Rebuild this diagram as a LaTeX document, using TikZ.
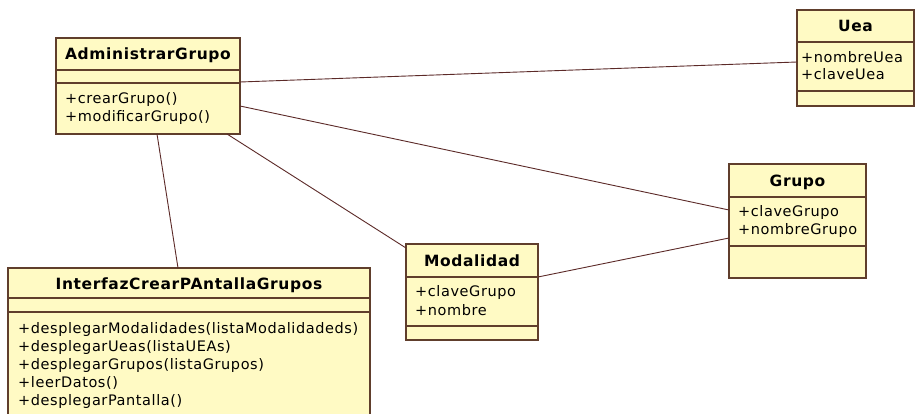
\documentclass[tikz,border=0pt]{standalone}
\usepackage{fontspec}
\setmainfont{DejaVu Sans}[LetterSpace=4]
\usetikzlibrary{calc}
\definecolor{clsfill}{RGB}{255,250,196}
\definecolor{clsline}{RGB}{96,62,44}
\definecolor{assoc}{RGB}{92,42,40}
\tikzset{
  cls/.style={draw=clsline, fill=clsfill, line width=1.2pt, inner sep=0pt, outer sep=0pt, anchor=north west},
  divider/.style={draw=clsline, line width=1.2pt},
  ttl/.style={font=\fontsize{15.5}{18}\selectfont\bfseries, anchor=base, inner sep=0pt},
  mbr/.style={font=\fontsize{14.5}{18}\selectfont, anchor=base west, inner sep=0pt},
  assocline/.style={draw=assoc, line width=0.9pt}
}
\begin{document}
\begin{tikzpicture}[x=1pt,y=-1pt]
\useasboundingbox[fill=white] (0,0) rectangle (916,414);
\clip (0,0) rectangle (916,414);

% AdministrarGrupo
\node[cls, minimum width=184pt, minimum height=96pt] (adm) at (56,38) {};
\draw[divider] ($(adm.north west)+(0,32)$) -- ($(adm.north east)+(0,32)$);
\draw[divider] ($(adm.north west)+(0,45)$) -- ($(adm.north east)+(0,45)$);
\node[ttl] (admT) at (148,59.5) {AdministrarGrupo};
\node[mbr] (admO1) at (65,104) {+crearGrupo()};
\node[mbr] (admO2) at (65,122) {+modificarGrupo()};

% Uea
\node[cls, minimum width=117pt, minimum height=96pt] (uea) at (797,10) {};
\draw[divider] ($(uea.north west)+(0,32)$) -- ($(uea.north east)+(0,32)$);
\draw[divider] ($(uea.north west)+(0,81)$) -- ($(uea.north east)+(0,81)$);
\node[ttl] (ueaT) at (855.5,31.5) {Uea};
\node[mbr] (ueaA1) at (801,63) {+nombreUea};
\node[mbr] (ueaA2) at (801,80) {+claveUea};

% Grupo
\node[cls, minimum width=137pt, minimum height=114pt] (grupo) at (729,164) {};
\draw[divider] ($(grupo.north west)+(0,33)$) -- ($(grupo.north east)+(0,33)$);
\draw[divider] ($(grupo.north west)+(0,82)$) -- ($(grupo.north east)+(0,82)$);
\node[ttl] (grupoT) at (797.5,186.5) {Grupo};
\node[mbr] (grupoA1) at (738,217) {+claveGrupo};
\node[mbr] (grupoA2) at (738,235) {+nombreGrupo};

% Modalidad
\node[cls, minimum width=132pt, minimum height=96pt] (mod) at (406,244) {};
\draw[divider] ($(mod.north west)+(0,33)$) -- ($(mod.north east)+(0,33)$);
\draw[divider] ($(mod.north west)+(0,82)$) -- ($(mod.north east)+(0,82)$);
\node[ttl] (modT) at (472,266.5) {Modalidad};
\node[mbr] (modA1) at (415,297) {+claveGrupo};
\node[mbr] (modA2) at (415,315) {+nombre};

% InterfazCrearPAntallaGrupos
\node[cls, minimum width=362pt, minimum height=156pt] (inter) at (8,268) {};
\draw[divider] ($(inter.north west)+(0,30)$) -- ($(inter.north east)+(0,30)$);
\draw[divider] ($(inter.north west)+(0,44)$) -- ($(inter.north east)+(0,44)$);
\node[ttl] (interT) at (189,289.5) {InterfazCrearPAntallaGrupos};
\node[mbr] (interO1) at (18,333) {+desplegarModalidades(listaModalidadeds)};
\node[mbr] (interO2) at (18,351) {+desplegarUeas(listaUEAs)};
\node[mbr] (interO3) at (18,369) {+desplegarGrupos(listaGrupos)};
\node[mbr] (interO4) at (18,387) {+leerDatos()};
\node[mbr] (interO5) at (18,405) {+desplegarPantalla()};

% associations
\draw[assocline] ($(adm.north east)+(0,44)$) -- ($(uea.north west)+(0,52)$);
\draw[assocline] ($(adm.north east)+(0,68)$) -- ($(grupo.north west)+(0,46)$);
\draw[assocline] ($(adm.south west)+(171,0)$) -- ($(mod.north west)+(0,4)$);
\draw[assocline] ($(adm.south west)+(101,0)$) -- ($(inter.north west)+(170,0)$);
\draw[assocline] ($(mod.north east)+(0,33)$) -- ($(grupo.north west)+(0,74)$);
\end{tikzpicture}
\end{document}
